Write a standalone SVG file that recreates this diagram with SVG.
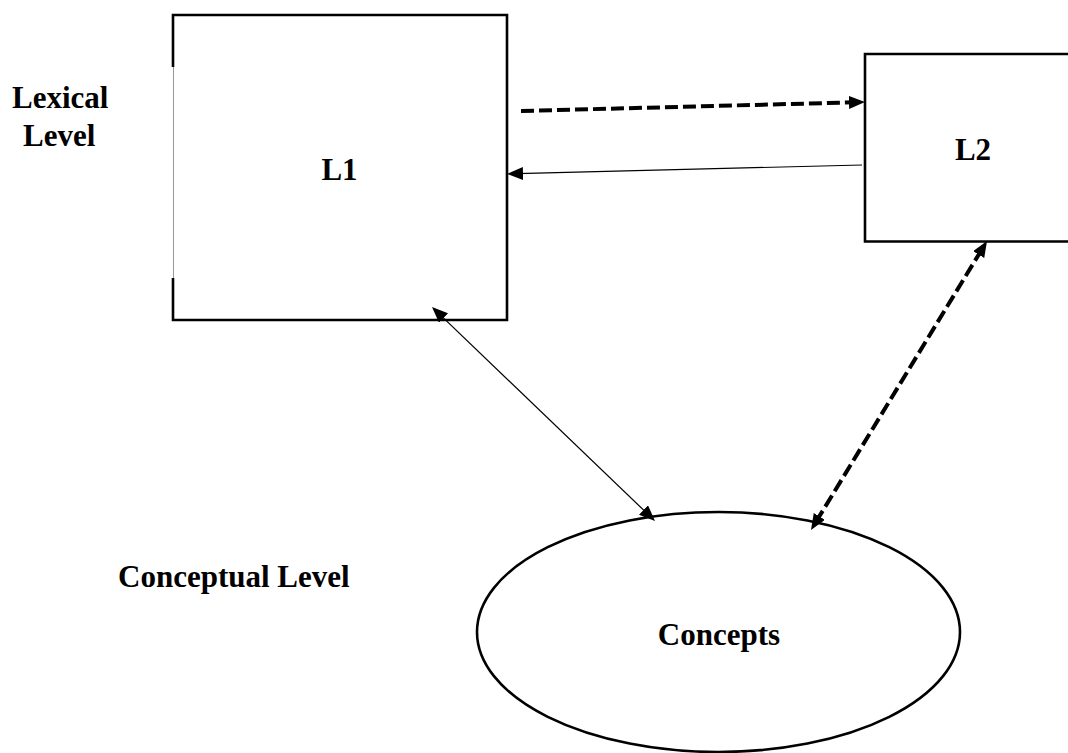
<svg xmlns="http://www.w3.org/2000/svg" width="1068" height="753" viewBox="0 0 1068 753">
<style>
.lbl{font-family:"Liberation Serif","Times New Roman",serif;font-weight:bold;font-size:31px;fill:#000}
.box{fill:none;stroke:#000;stroke-width:2.6}
.thin{fill:none;stroke:#000;stroke-width:1.2}
.dash{fill:none;stroke:#000;stroke-width:4;stroke-dasharray:13 5}
</style>
<defs>
<marker id="ah" markerUnits="userSpaceOnUse" markerWidth="18" markerHeight="14" refX="6" refY="6.5" orient="auto-start-reverse">
<path d="M0,0 L16,6.5 L0,13 z" fill="#000"/>
</marker>
</defs>
<rect width="1068" height="753" fill="#fff"/>
<g id="labels">
<text class="lbl" x="12" y="108">Lexical</text>
<text class="lbl" x="23" y="146">Level</text>
<text class="lbl" x="118" y="587">Conceptual Level</text>
</g>
<g id="L1">
<path class="box" d="M173,67 V15 H507 V320 H173 V278"/>
<line x1="173.5" y1="67" x2="173.5" y2="278" stroke="#999" stroke-width="1"/>
<text class="lbl" x="339.5" y="180" text-anchor="middle">L1</text>
</g>
<g id="L2">
<path class="box" d="M1070,54 H865 V241.5 H1070"/>
<text class="lbl" x="973" y="160" text-anchor="middle">L2</text>
</g>
<g id="Concepts">
<ellipse class="box" cx="718.5" cy="632" rx="241.5" ry="120"/>
<text class="lbl" x="719" y="645" text-anchor="middle">Concepts</text>
</g>
<g id="connectors">
<line class="dash" x1="521" y1="111" x2="855" y2="102.3" marker-end="url(#ah)"/>
<line class="thin" x1="862" y1="165" x2="517" y2="173.7" marker-end="url(#ah)"/>
<line class="thin" x1="439.2" y1="313.9" x2="647.8" y2="514.1" marker-start="url(#ah)" marker-end="url(#ah)"/>
<line class="dash" x1="981.8" y1="249.5" x2="816.2" y2="521.5" stroke-dasharray="11 5" marker-start="url(#ah)" marker-end="url(#ah)"/>
</g>
</svg>
